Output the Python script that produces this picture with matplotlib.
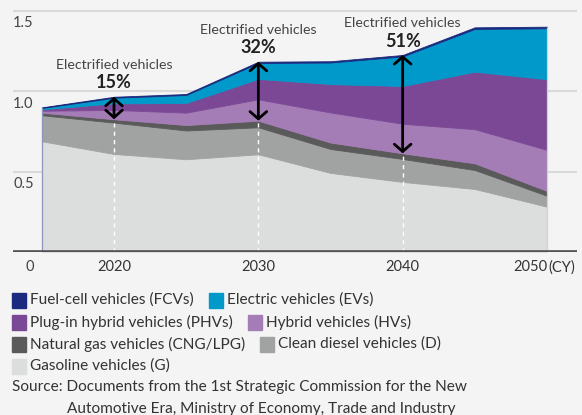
import numpy as np
import matplotlib
matplotlib.use('Agg')
import matplotlib.pyplot as plt
from matplotlib.patches import Rectangle

# values (stack layers, bottom to top)
years = [2015, 2020, 2025, 2030, 2035, 2040, 2045, 2050]
gasoline = [0.689, 0.610, 0.577, 0.608, 0.492, 0.436, 0.392, 0.282]
diesel = [0.162, 0.195, 0.179, 0.168, 0.149, 0.143, 0.118, 0.068]
cng = [0.016, 0.021, 0.034, 0.041, 0.040, 0.035, 0.042, 0.030]
hybrid = [0.012, 0.058, 0.077, 0.133, 0.187, 0.184, 0.212, 0.255]
plugin = [0.009, 0.041, 0.060, 0.127, 0.177, 0.235, 0.358, 0.440]
electric = [0.008, 0.035, 0.050, 0.099, 0.134, 0.184, 0.266, 0.317]
fuelcell = [0.004, 0.006, 0.006, 0.008, 0.008, 0.009, 0.010, 0.010]

marked_years = [2020, 2030, 2040]
marked_share = ['15%', '32%', '51%']

yticks = [0.5, 1.0, 1.5]
ytick_labels = ['0.5', '1.0', '1.5']
xticks = [2020, 2030, 2040]

legend_rows = [
    [('Fuel-cell vehicles (FCVs)', '#1b2a7e'), ('Electric vehicles (EVs)', '#0099c9')],
    [('Plug-in hybrid vehicles (PHVs)', '#7b4896'), ('Hybrid vehicles (HVs)', '#a57db6')],
    [('Natural gas vehicles (CNG/LPG)', '#5a5a5a'), ('Clean diesel vehicles (D)', '#a1a2a2')],
    [('Gasoline vehicles (G)', '#dcdedd')],
]
source_lines = ['Source: Documents from the 1st Strategic Commission for the New',
                'Automotive Era, Ministry of Economy, Trade and Industry']

layers = [gasoline, diesel, cng, hybrid, plugin, electric, fuelcell]
colors = ['#dcdedd', '#a1a2a2', '#5a5a5a', '#a57db6', '#7b4896', '#0099c9', '#1b2a7e']

plt.rcParams['font.family'] = ['Lato', 'DejaVu Sans']
bg = '#f4f4f4'
W, H = 582, 415

fig = plt.figure(figsize=(W / 100, H / 100), dpi=100, facecolor=bg)
ax = fig.add_axes([13 / W, (H - 252) / H, 564 / W, 252 / H])
ax.set_facecolor(bg)
ax.set_xlim(2013.0, 2052.08)
ax.set_ylim(0, 1.568)

for v in yticks:
    ax.axhline(v, color='#d9d9d9', lw=1.5, zorder=0)

ax.stackplot(years, *layers, colors=colors, edgecolor='face', linewidth=0.6, zorder=2)

stack = np.cumsum(np.array(layers), axis=0)
total = stack[-1]
cng_top = stack[2]

ax.vlines(years[0], 0, total[0], color='#8e95c2', lw=0.9, zorder=3)
ax.vlines(years[-1], 0, total[-1], color='#cfd2dc', lw=0.9, zorder=3)
ax.axhline(0, color='#505050', lw=2.6, zorder=4)

for yr, share in zip(marked_years, marked_share):
    i = years.index(yr)
    ax.vlines(yr, 0, cng_top[i], colors='white', linestyles=(0, (3, 3)), lw=1, zorder=3)
    ax.annotate('', xy=(yr, total[i]), xytext=(yr, cng_top[i]),
                arrowprops=dict(arrowstyle='<->,head_length=0.35,head_width=0.4',
                                lw=2, color='black', mutation_scale=15,
                                shrinkA=0, shrinkB=0), zorder=5)
    ax.annotate(share, xy=(yr, total[i]), xytext=(0, 10), textcoords='offset points',
                ha='center', va='center', fontsize=13, fontweight='bold', color='#222222')
    ax.annotate('Electrified vehicles', xy=(yr, total[i]), xytext=(0, 23),
                textcoords='offset points', ha='center', va='center',
                fontsize=10.2, color='#444444')

for v, lab in zip(yticks, ytick_labels):
    ax.annotate(lab, xy=(2013.0, v), xytext=(0, -4), textcoords='offset points',
                ha='left', va='top', fontsize=10.5, color='#444444')
ax.annotate('0', xy=(2013.0, 0), xytext=(9, -6), textcoords='offset points',
            ha='left', va='top', fontsize=10.5, color='#444444')

ax.set_xticks(xticks)
ax.set_xticklabels([str(x) for x in xticks])
ax.tick_params(axis='x', length=0, pad=6, labelsize=10.5, labelcolor='#333333')
ax.set_yticks([])
for s in ax.spines.values():
    s.set_visible(False)
ax.annotate('2050', xy=(2050, 0), xytext=(0.5, -6), textcoords='offset points',
            ha='right', va='top', fontsize=10.5, color='#333333')
ax.annotate('(CY)', xy=(2050, 0), xytext=(1, -6), textcoords='offset points',
            ha='left', va='top', fontsize=10.5, color='#333333')

# legend laid out like flowing text
fig.canvas.draw()
renderer = fig.canvas.get_renderer()
row_y = [300, 322, 344, 366]
for row, yc in zip(legend_rows, row_y):
    x = 12
    for name, col in row:
        fig.patches.append(Rectangle((x / W, (H - yc - 7.5) / H), 14 / W, 15 / H,
                                     transform=fig.transFigure, color=col))
        t = fig.text((x + 18) / W, (H - yc) / H, name, ha='left', va='center',
                     fontsize=11.1, color='#333333')
        x = t.get_window_extent(renderer).x1 + 15

fig.text(12 / W, (H - 387) / H, source_lines[0], ha='left', va='center',
         fontsize=11.1, color='#333333')
fig.text(67 / W, (H - 409) / H, source_lines[1], ha='left', va='center',
         fontsize=11.1, color='#333333')

fig.savefig('out.png', dpi=100, facecolor=bg)
